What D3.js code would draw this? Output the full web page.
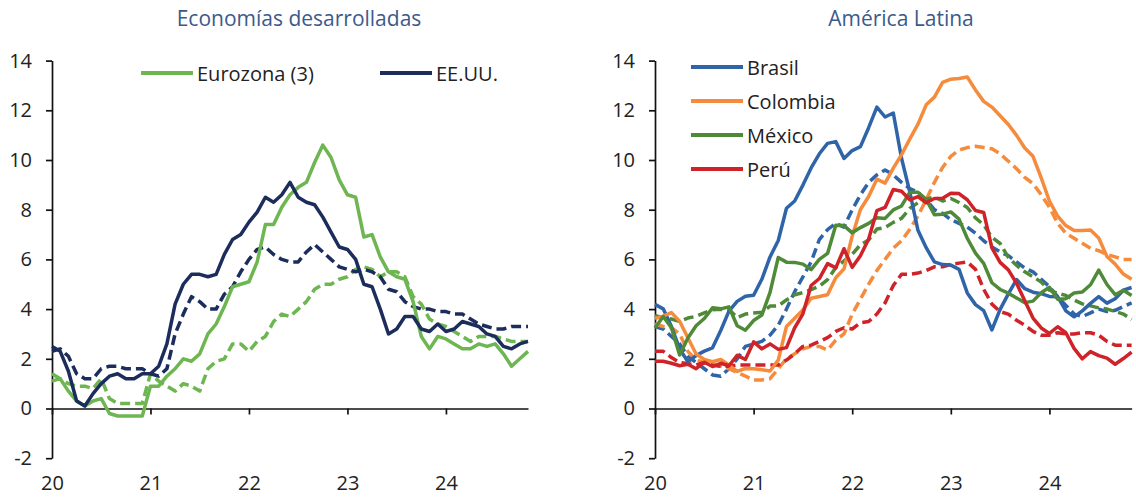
<!DOCTYPE html>
<html>
<head>
<meta charset="utf-8">
<script src="https://cdn.jsdelivr.net/npm/d3@7"></script>
<style>
  body { margin: 0; background: #fff; }
  svg { display: block; }
  text { font-family: "Open Sans", "Noto Sans", sans-serif; }
</style>
</head>
<body>
<div id="chart"></div>
<script>
// monthly data, Jan 2020 - Nov 2024 (59 points)
const xTickMonths = [0, 12, 24, 36, 48];
const xTickLabels = ["20", "21", "22", "23", "24"];
const yTicks = [-2, 0, 2, 4, 6, 8, 10, 12, 14];

// Economías desarrolladas
const eurozona = [1.4, 1.2, 0.7, 0.3, 0.1, 0.3, 0.4, -0.2, -0.3, -0.3, -0.3, -0.3,
    0.9, 0.9, 1.3, 1.6, 2.0, 1.9, 2.2, 3.0, 3.4, 4.1, 4.9, 5.0,
    5.1, 5.9, 7.4, 7.4, 8.1, 8.6, 8.9, 9.1, 9.9, 10.6, 10.1, 9.2,
    8.6, 8.5, 6.9, 7.0, 6.1, 5.5, 5.3, 5.2, 4.3, 2.9, 2.4, 2.9,
    2.8, 2.6, 2.4, 2.4, 2.6, 2.5, 2.6, 2.2, 1.7, 2.0, 2.3];
const eurozonaCore = [1.1, 1.2, 1.0, 0.9, 0.9, 0.8, 1.2, 0.4, 0.2, 0.2, 0.2, 0.2,
    1.4, 1.1, 0.9, 0.7, 1.0, 0.9, 0.7, 1.6, 1.9, 2.0, 2.6, 2.6,
    2.3, 2.7, 2.9, 3.5, 3.8, 3.7, 4.0, 4.3, 4.8, 5.0, 5.0, 5.2,
    5.3, 5.6, 5.7, 5.6, 5.3, 5.5, 5.5, 5.3, 4.5, 4.2, 3.6, 3.4,
    3.3, 3.1, 2.9, 2.7, 2.9, 2.9, 2.9, 2.8, 2.7, 2.7, 2.7];
const eeuu = [2.5, 2.3, 1.5, 0.3, 0.1, 0.6, 1.0, 1.3, 1.4, 1.2, 1.2, 1.4,
    1.4, 1.7, 2.6, 4.2, 5.0, 5.4, 5.4, 5.3, 5.4, 6.2, 6.8, 7.0,
    7.5, 7.9, 8.5, 8.3, 8.6, 9.1, 8.5, 8.3, 8.2, 7.7, 7.1, 6.5,
    6.4, 6.0, 5.0, 4.9, 4.0, 3.0, 3.2, 3.7, 3.7, 3.2, 3.1, 3.4,
    3.1, 3.2, 3.5, 3.4, 3.3, 3.0, 2.9, 2.5, 2.4, 2.6, 2.7];
const eeuuCore = [2.3, 2.4, 2.1, 1.4, 1.2, 1.2, 1.6, 1.7, 1.7, 1.6, 1.6, 1.6,
    1.4, 1.3, 1.6, 3.0, 3.8, 4.5, 4.3, 4.0, 4.0, 4.6, 4.9, 5.5,
    6.0, 6.4, 6.5, 6.2, 6.0, 5.9, 5.9, 6.3, 6.6, 6.3, 6.0, 5.7,
    5.6, 5.5, 5.6, 5.5, 5.3, 4.8, 4.7, 4.3, 4.1, 4.0, 4.0, 3.9,
    3.9, 3.8, 3.8, 3.6, 3.4, 3.3, 3.2, 3.2, 3.3, 3.3, 3.3];

// América Latina
const brasil = [4.19, 4.01, 3.30, 2.40, 1.88, 2.13, 2.31, 2.44, 3.14, 3.92, 4.31, 4.52,
    4.56, 5.20, 6.10, 6.76, 8.06, 8.35, 8.99, 9.68, 10.25, 10.67, 10.74, 10.06,
    10.38, 10.54, 11.30, 12.13, 11.73, 11.89, 10.07, 8.73, 7.17, 6.47, 5.90, 5.79,
    5.77, 5.60, 4.65, 4.18, 3.94, 3.16, 3.99, 4.61, 5.19, 4.82, 4.68, 4.62,
    4.51, 4.50, 3.93, 3.69, 3.93, 4.23, 4.50, 4.24, 4.42, 4.76, 4.87];
const brasilCore = [3.3, 3.2, 2.9, 2.6, 2.1, 1.85, 1.6, 1.35, 1.3, 1.6, 2.0, 2.5,
    2.6, 2.7, 2.95, 3.35, 4.0, 4.7, 5.3, 5.9, 6.8, 7.2, 7.45, 7.3,
    8.0, 8.6, 9.1, 9.4, 9.6, 9.4, 9.1, 8.85, 8.7, 8.4, 8.0, 7.85,
    7.6, 7.45, 7.3, 7.05, 6.75, 6.5, 6.3, 6.15, 5.9, 5.65, 5.5, 5.2,
    4.9, 4.5, 4.15, 3.8, 3.7, 3.85, 4.0, 3.9, 3.95, 4.1, 4.25];
const colombia = [3.62, 3.72, 3.86, 3.51, 2.85, 2.19, 1.97, 1.88, 1.97, 1.75, 1.49, 1.61,
    1.60, 1.56, 1.51, 1.95, 3.30, 3.63, 3.97, 4.44, 4.51, 4.58, 5.26, 5.62,
    6.94, 8.01, 8.53, 9.23, 9.07, 9.67, 10.21, 10.84, 11.44, 12.22, 12.53, 13.12,
    13.25, 13.28, 13.34, 12.82, 12.36, 12.13, 11.78, 11.43, 10.99, 10.48, 10.15, 9.28,
    8.35, 7.74, 7.36, 7.16, 7.16, 7.18, 6.86, 6.12, 5.81, 5.41, 5.20];
const colombiaCore = [3.4, 3.3, 3.25, 3.0, 2.3, 1.95, 1.85, 1.75, 1.7, 1.6, 1.45, 1.3,
    1.15, 1.15, 1.2, 1.6, 2.0, 2.2, 2.4, 2.5, 2.5, 2.35, 2.75, 3.0,
    3.8, 4.4, 5.0, 5.55, 6.0, 6.45, 6.75, 7.2, 7.75, 8.4, 9.1, 9.7,
    10.15, 10.4, 10.5, 10.55, 10.5, 10.45, 10.25, 9.95, 9.65, 9.3, 9.05, 8.6,
    8.1, 7.45, 7.05, 6.85, 6.65, 6.45, 6.35, 6.2, 6.1, 6.0, 6.0];
const mexico = [3.24, 3.70, 3.25, 2.15, 2.84, 3.33, 3.62, 4.05, 4.01, 4.09, 3.33, 3.15,
    3.54, 3.76, 4.67, 6.08, 5.89, 5.88, 5.81, 5.59, 6.00, 6.24, 7.37, 7.36,
    7.07, 7.28, 7.45, 7.68, 7.65, 7.99, 8.15, 8.70, 8.70, 8.41, 7.80, 7.82,
    7.91, 7.62, 6.85, 6.25, 5.84, 5.06, 4.79, 4.64, 4.45, 4.26, 4.32, 4.66,
    4.88, 4.40, 4.42, 4.65, 4.69, 4.98, 5.57, 4.99, 4.58, 4.76, 4.55];
const mexicoCore = [3.73, 3.66, 3.60, 3.50, 3.64, 3.71, 3.85, 3.97, 3.99, 3.98, 3.66, 3.80,
    3.84, 3.87, 4.12, 4.13, 4.37, 4.58, 4.66, 4.78, 4.92, 5.19, 5.67, 5.94,
    6.21, 6.59, 6.78, 7.22, 7.28, 7.49, 7.65, 8.05, 8.28, 8.42, 8.51, 8.35,
    8.45, 8.29, 8.09, 7.67, 7.39, 6.89, 6.64, 6.08, 5.76, 5.50, 5.30, 5.09,
    4.76, 4.64, 4.55, 4.37, 4.21, 4.13, 4.05, 4.00, 3.91, 3.80, 3.58];
const peru = [1.90, 1.90, 1.82, 1.72, 1.78, 1.60, 1.86, 1.69, 1.82, 1.72, 2.14, 1.97,
    2.68, 2.40, 2.60, 2.38, 2.45, 3.25, 3.81, 4.95, 5.23, 5.83, 5.66, 6.43,
    5.68, 6.15, 6.82, 7.96, 8.09, 8.81, 8.74, 8.40, 8.53, 8.28, 8.45, 8.46,
    8.66, 8.65, 8.40, 7.97, 7.89, 6.46, 5.88, 5.58, 5.04, 4.34, 3.64, 3.24,
    3.02, 3.29, 3.05, 2.42, 2.00, 2.29, 2.13, 2.03, 1.78, 2.01, 2.27];
const peruCore = [2.3, 2.3, 2.05, 1.85, 1.8, 1.75, 1.85, 1.75, 1.7, 1.7, 1.75, 1.75,
    1.75, 1.75, 1.75, 1.75, 1.95, 2.2, 2.5, 2.55, 2.7, 2.85, 3.1, 3.25,
    3.2, 3.45, 3.5, 3.8, 4.25, 4.95, 5.4, 5.4, 5.45, 5.55, 5.7, 5.7,
    5.8, 5.85, 5.9, 5.6, 4.8, 4.2, 3.9, 3.8, 3.55, 3.35, 3.1, 2.95,
    2.95, 3.05, 3.0, 3.0, 3.05, 3.05, 2.95, 2.7, 2.55, 2.55, 2.55];

const width = 1136;
const height = 497;
const yTop = 60.6;
const yBottom = 458.2;

const svg = d3.select("#chart")
    .append("svg")
    .attr("width", width)
    .attr("height", height);

function drawPanel(opts) {
    const x = d3.scaleLinear().domain([0, 58]).range([opts.left, opts.right]);
    const y = d3.scaleLinear().domain([-2, 14]).range([yBottom, yTop]);
    const g = svg.append("g");

    //title
    g.append("text")
        .attr("x", opts.titleX)
        .attr("y", 26)
        .attr("text-anchor", "middle")
        .attr("fill", "#3b5a8c")
        .style("font-size", "21px")
        .text(opts.title);

    //y axis, plain hyphen for the minus like the original
    const yAxis = g.append("g")
        .attr("transform", `translate(${opts.left},0)`)
        .call(d3.axisLeft(y)
            .tickValues(yTicks)
            .tickFormat(d => String(d))
            .tickSize(6)
            .tickSizeOuter(0)
            .tickPadding(14));

    //x axis on the zero line, labels down at the bottom
    const xAxis = g.append("g")
        .attr("transform", `translate(0,${y(0)})`)
        .call(d3.axisBottom(x)
            .tickValues(xTickMonths)
            .tickFormat((d, i) => xTickLabels[i])
            .tickSize(6)
            .tickSizeOuter(0)
            .tickPadding(61));

    [yAxis, xAxis].forEach(a => {
        a.selectAll("path, line").attr("stroke", "#111").attr("stroke-width", 1.7);
        a.selectAll("text")
            .attr("fill", "#222")
            .style("font-size", "20px")
            .style("font-family", "'Open Sans', 'Noto Sans', sans-serif");
    });

    const line = d3.line()
        .x((d, i) => x(i))
        .y(d => y(d));

    //core (dashed) first, headline on top
    opts.series.forEach(s => {
        g.append("path")
            .datum(s.core)
            .attr("d", line)
            .attr("fill", "none")
            .attr("stroke", s.color)
            .attr("stroke-width", 3.5)
            .attr("stroke-dasharray", "10,5")
            .attr("stroke-linejoin", "round");
    });
    opts.series.forEach(s => {
        g.append("path")
            .datum(s.values)
            .attr("d", line)
            .attr("fill", "none")
            .attr("stroke", s.color)
            .attr("stroke-width", 3.5)
            .attr("stroke-linejoin", "round");
    });

    //legend
    opts.series.forEach(s => {
        g.append("line")
            .attr("x1", s.lx)
            .attr("x2", s.lx + 52)
            .attr("y1", s.ly)
            .attr("y2", s.ly)
            .attr("stroke", s.color)
            .attr("stroke-width", 4);
        g.append("text")
            .attr("x", s.lx + 56)
            .attr("y", s.ly)
            .attr("dominant-baseline", "central")
            .attr("fill", "#222")
            .style("font-size", "20px")
            .text(s.name);
    });
}

drawPanel({
    title: "Economías desarrolladas",
    titleX: 299,
    left: 52,
    right: 528,
    series: [
        { name: "Eurozona (3)", values: eurozona, core: eurozonaCore, color: "#6db651", lx: 141, ly: 73 },
        { name: "EE.UU.", values: eeuu, core: eeuuCore, color: "#1c2d5c", lx: 380, ly: 73 }
    ]
});

drawPanel({
    title: "América Latina",
    titleX: 901,
    left: 655,
    right: 1131.6,
    series: [
        { name: "Brasil", values: brasil, core: brasilCore, color: "#2f65a8", lx: 691, ly: 67 },
        { name: "Colombia", values: colombia, core: colombiaCore, color: "#f58b3c", lx: 691, ly: 101 },
        { name: "México", values: mexico, core: mexicoCore, color: "#4f8a39", lx: 691, ly: 135 },
        { name: "Perú", values: peru, core: peruCore, color: "#cf2229", lx: 691, ly: 169 }
    ]
});
</script>
</body>
</html>
